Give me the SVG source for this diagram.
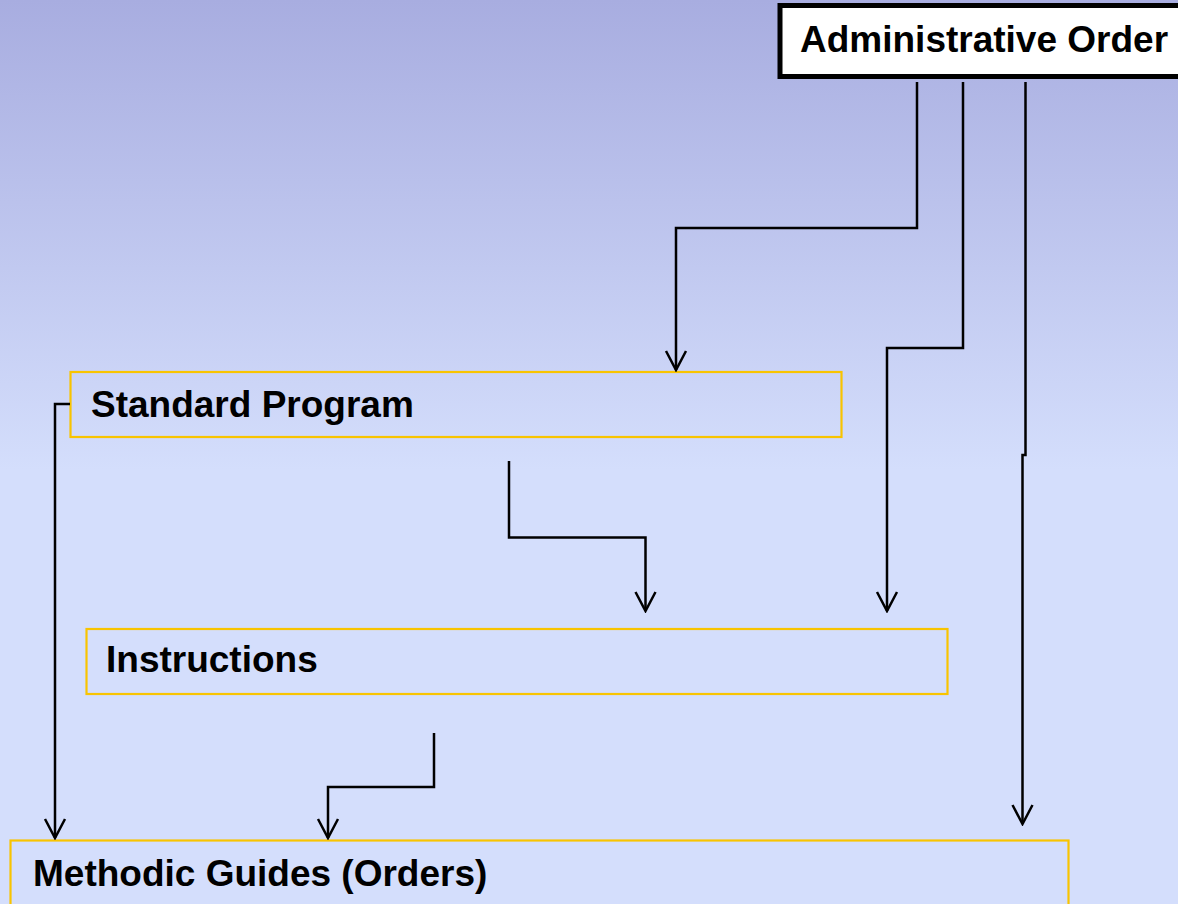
<svg xmlns="http://www.w3.org/2000/svg" width="1178" height="904" viewBox="0 0 1178 904">
<defs>
<linearGradient id="bg" x1="0" y1="0" x2="0" y2="904" gradientUnits="userSpaceOnUse">
<stop offset="0" stop-color="#A8ADE0"/>
<stop offset="0.52" stop-color="#D4DEFC"/>
<stop offset="1" stop-color="#D4DEFC"/>
</linearGradient>
<marker id="arr" markerWidth="24" markerHeight="24" viewBox="-22 -12 24 24" refX="0" refY="0" orient="auto" markerUnits="userSpaceOnUse">
<path d="M-19,-10 L0,0 L-19,10" fill="none" stroke="#000" stroke-width="2.5"/>
</marker>
<style>
.lbl{font-family:"Liberation Sans",Arial,sans-serif;font-weight:bold;font-size:37px;fill:#000}
.box{fill:none;stroke:#F8C400;stroke-width:2.2}
.con{fill:none;stroke:#000;stroke-width:2.5}
</style>
</defs>
<rect x="0" y="0" width="1178" height="904" fill="url(#bg)"/>
<g id="admin-order">
<rect x="780" y="5.5" width="420" height="71" fill="#fff" stroke="#000" stroke-width="5"/>
<text class="lbl" x="800" y="52">Administrative Order</text>
</g>
<g id="standard-program">
<rect class="box" x="70.5" y="372" width="771" height="65"/>
<text class="lbl" x="91" y="417">Standard Program</text>
</g>
<g id="instructions">
<rect class="box" x="86.5" y="629" width="861" height="65"/>
<text class="lbl" x="106" y="672">Instructions</text>
</g>
<g id="methodic-guides">
<rect class="box" x="10.5" y="840.5" width="1058" height="80"/>
<text class="lbl" x="33" y="886">Methodic Guides (Orders)</text>
</g>
<g id="connectors">
<path class="con" d="M917,82 V228 H676 V370" style="marker-end:url(#arr)"/>
<path class="con" d="M963,82 V348 H887 V611" style="marker-end:url(#arr)"/>
<path class="con" d="M1025.5,82 V455 H1022.5 V824" style="marker-end:url(#arr)"/>
<path class="con" d="M70,404 H55 V838" style="marker-end:url(#arr)"/>
<path class="con" d="M509,461 V537.5 H645.5 V611" style="marker-end:url(#arr)"/>
<path class="con" d="M434,733 V787 H328 V838" style="marker-end:url(#arr)"/>
</g>
</svg>
